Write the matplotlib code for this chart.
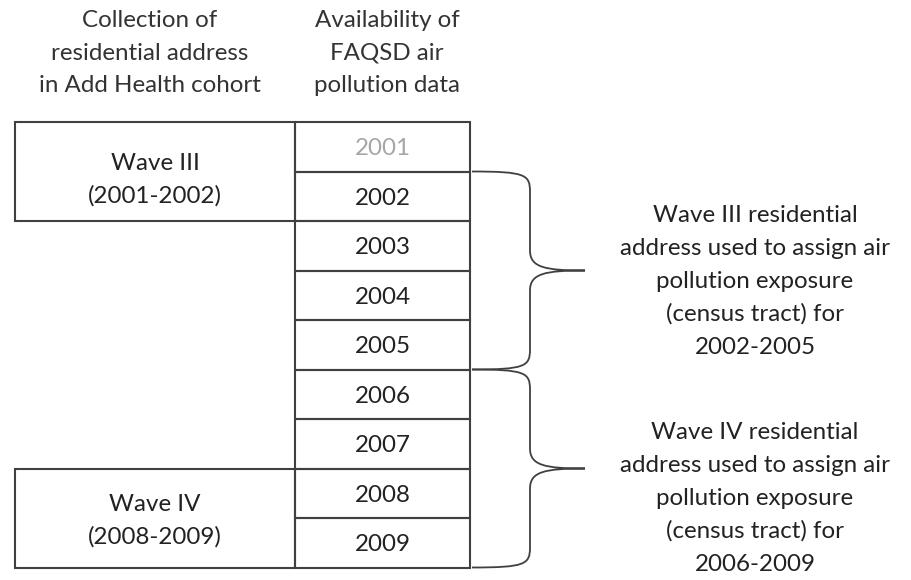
import matplotlib.pyplot as plt
from matplotlib.path import Path
from matplotlib.patches import PathPatch, Rectangle

# chart content
years = [2001, 2002, 2003, 2004, 2005, 2006, 2007, 2008, 2009]
year_colors = ['#a6a6a6'] + ['#222222'] * 8
waves = ['Wave III\n(2001-2002)', 'Wave IV\n(2008-2009)']
wave_years = [(2001, 2002), (2008, 2009)]
brace_years = [(2002, 2005), (2006, 2009)]
brace_texts = [
    'Wave III residential\naddress used to assign air\npollution exposure\n(census tract) for\n2002-2005',
    'Wave IV residential\naddress used to assign air\npollution exposure\n(census tract) for\n2006-2009',
]
headers = ['Collection of\nresidential address\nin Add Health cohort',
           'Availability of\nFAQSD air\npollution data']

# layout in pixels
W, H = 911, 580
top = 122
row_h = 49.5
x_left, x_mid, x_right = 15, 295, 470
note_dy = [11, 30]
wave_dy = [8, 3]
line_c = '#404040'
font = 'Lato'
fs = 17.4
ls = 1.68


def row_top(year):
    return top + (year - years[0]) * row_h


def brace(ax, y0, y1, x0, x1, xt):
    ym = (y0 + y1) / 2
    r = 20
    verts = [(x0, y0),
             (x1 - 5, y0), (x1, y0 + 3), (x1, y0 + r),
             (x1, ym - r),
             (x1, ym - 3), (x1 + 15, ym), (xt, ym),
             (x1 + 15, ym), (x1, ym + 3), (x1, ym + r),
             (x1, y1 - r),
             (x1, y1 - 3), (x1 - 5, y1), (x0, y1)]
    codes = [Path.MOVETO,
             Path.CURVE4, Path.CURVE4, Path.CURVE4,
             Path.LINETO,
             Path.CURVE4, Path.CURVE4, Path.CURVE4,
             Path.CURVE4, Path.CURVE4, Path.CURVE4,
             Path.LINETO,
             Path.CURVE4, Path.CURVE4, Path.CURVE4]
    ax.add_patch(PathPatch(Path(verts, codes), fill=False, color=line_c, lw=1.3))
    return ym


fig = plt.figure(figsize=(W / 100, H / 100), dpi=100)
ax = fig.add_axes([0, 0, 1, 1])
ax.set_xlim(0, W)
ax.set_ylim(H, 0)
ax.axis('off')

# headers
ax.text(150, 53, headers[0], ha='center', va='center',
        fontsize=fs, family=font, color='#333333', linespacing=ls)
ax.text(387, 53, headers[1], ha='center', va='center',
        fontsize=fs, family=font, color='#333333', linespacing=ls)

# year cells
for y, c in zip(years, year_colors):
    ax.add_patch(Rectangle((x_mid, row_top(y)), x_right - x_mid, row_h,
                           fill=False, ec=line_c, lw=1.5))
    ax.text((x_mid + x_right) / 2, row_top(y) + row_h / 2 + 2, str(y),
            ha='center', va='center', fontsize=fs, family=font, color=c)

# wave boxes
for lab, (a, b), dy in zip(waves, wave_years, wave_dy):
    y0 = row_top(a)
    h = (b - a + 1) * row_h
    ax.add_patch(Rectangle((x_left, y0), x_mid - x_left, h,
                           fill=False, ec=line_c, lw=1.5))
    ax.text((x_left + x_mid) / 2, y0 + h / 2 + dy, lab, ha='center', va='center',
            fontsize=fs, family=font, color='#222222', linespacing=1.62)

# braces and notes
for (a, b), txt, dy in zip(brace_years, brace_texts, note_dy):
    ym = brace(ax, row_top(a), row_top(b) + row_h, x_right + 2, 530, 585)
    ax.text(755, ym + dy, txt, ha='center', va='center', fontsize=fs,
            family=font, color='#222222', linespacing=ls)

fig.savefig('out.png', dpi=100)
